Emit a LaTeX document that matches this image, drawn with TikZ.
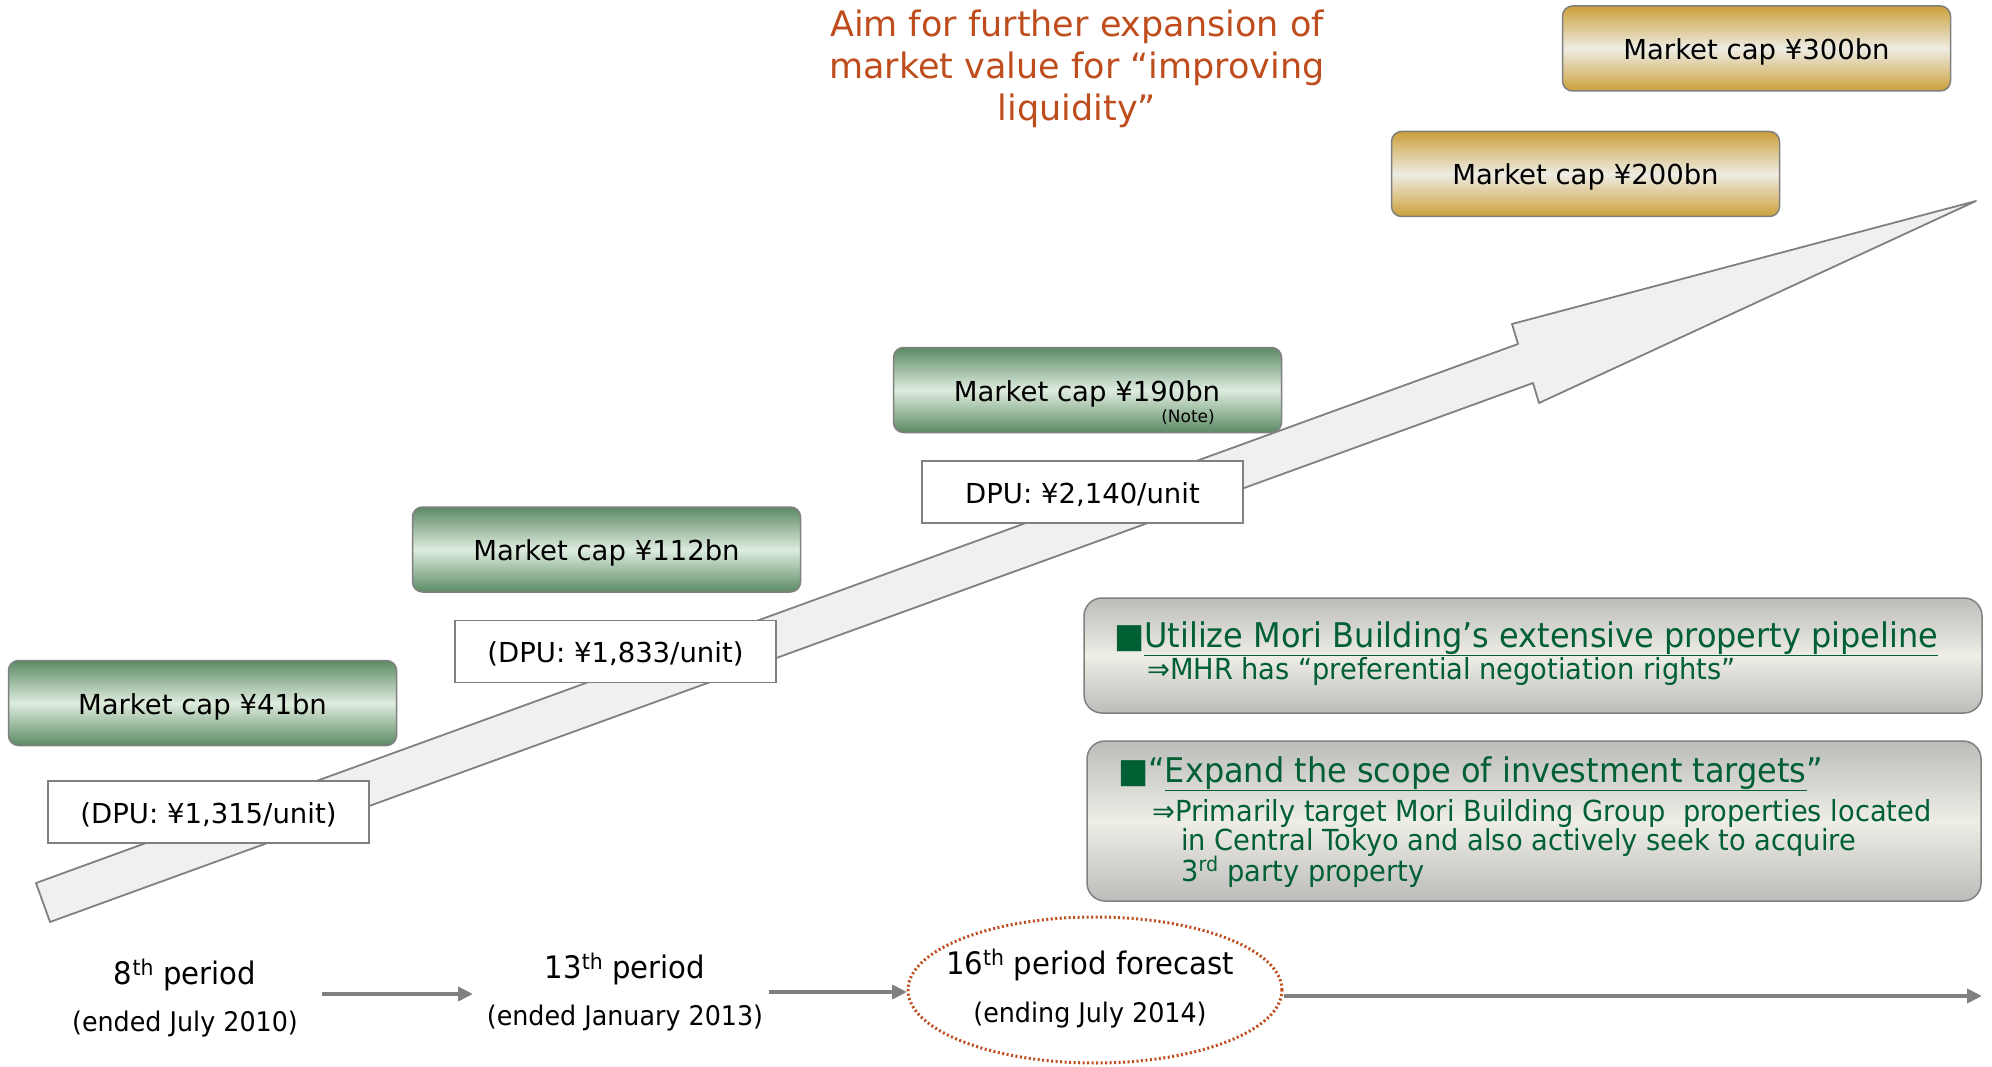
\documentclass[tikz,border=0pt]{standalone}
\usepackage{fontspec}
\setmainfont{DejaVu Sans}
\newfontfamily\narrowfont[FakeStretch=0.94]{DejaVu Sans}
\usetikzlibrary{arrows.meta,shapes.geometric}

\definecolor{capgreen}{RGB}{92,138,100}
\definecolor{capgreenlight}{RGB}{222,236,222}
\definecolor{capgold}{RGB}{204,160,58}
\definecolor{capgoldlight}{RGB}{238,236,228}
\definecolor{panelgray}{RGB}{188,188,186}
\definecolor{panellight}{RGB}{238,237,230}
\definecolor{edgegray}{RGB}{128,128,128}
\definecolor{textgreen}{RGB}{0,96,52}
\definecolor{rust}{RGB}{190,76,28}
\definecolor{arrowfill}{RGB}{240,240,240}

\tikzset{
  capbox/.style={draw=edgegray, line width=1.5, rounded corners=10,
    minimum width=388, minimum height=85, inner sep=0,
    text height=28, text depth=6,
    font=\fontsize{27.5}{32}\selectfont},
  greencap/.style={capbox, top color=capgreen, bottom color=capgreen, middle color=capgreenlight},
  goldcap/.style={capbox, top color=capgold, bottom color=capgold, middle color=capgoldlight},
  dpubox/.style={draw=edgegray, line width=1.8, fill=white,
    minimum width=321, minimum height=62, inner sep=0,
    text height=28, text depth=6,
    font=\fontsize{27.5}{32}\selectfont},
  panel/.style={draw=edgegray, line width=1.5, rounded corners=18,
    top color=panelgray, bottom color=panelgray, middle color=panellight, inner sep=0},
  paneltext/.style={anchor=base west, inner sep=0, text=textgreen,
    font=\narrowfont\fontsize{34}{40}\selectfont},
  panelsub/.style={anchor=base west, inner sep=0, text=textgreen,
    font=\narrowfont\fontsize{29}{34}\selectfont},
  growth/.style={draw=edgegray, line width=1.8, fill=arrowfill, line join=round},
  period/.style={inner sep=0, font=\narrowfont\fontsize{31}{37}\selectfont},
  periodsub/.style={inner sep=0, font=\narrowfont\fontsize{27}{32}\selectfont},
  timeline/.style={draw=edgegray, line width=4, -{Triangle[length=15,width=14]}},
}

\begin{document}
\begin{tikzpicture}[x=1pt,y=-1pt]
\useasboundingbox (0,0) rectangle (1992,1067);

% rising arrow behind the boxes
\draw[growth] (36,883) -- (1518,344) -- (1512,324) -- (1976,201)
  -- (1539,403) -- (1533,383) -- (50,922) -- cycle;

% headline
\node[text=rust, align=center, inner sep=0,
      font=\fontsize{35}{42}\selectfont] (aim) at (1077,69)
  {Aim for further expansion of\\market value for “improving\\liquidity”};

% market cap boxes
\node[greencap] (cap41)  at (202.5,703)  {Market cap ¥41bn};
\node[greencap] (cap112) at (606.5,549.5) {Market cap ¥112bn};
\node[greencap] (cap190) at (1087.5,390)  {};
\node[inner sep=0, text height=28, text depth=6,
      font=\fontsize{27.5}{32}\selectfont] (cap190t) at (1087,390) {Market cap ¥190bn};
\node[inner sep=0, font=\fontsize{17}{20}\selectfont] (note) at (1188,417) {(Note)};
\node[goldcap] (cap200) at (1585.5,174)  {Market cap ¥200bn};
\node[goldcap] (cap300) at (1756.5,48.5) {Market cap ¥300bn};

% distribution per unit boxes
\node[dpubox] (dpu1) at (208.5,812)  {(DPU: ¥1,315/unit)};
\node[dpubox] (dpu2) at (615.5,651.5) {(DPU: ¥1,833/unit)};
\node[dpubox] (dpu3) at (1082.5,492) {DPU: ¥2,140/unit};

% strategy panels
\node[panel, minimum width=898, minimum height=115] (pipe) at (1533,655.5) {};
\node[paneltext] (pipe1) at (1114,647)
  {■\underline{Utilize Mori Building’s extensive property pipeline}};
\node[panelsub] (pipe2) at (1147,679)
  {⇒MHR has “preferential negotiation rights”};

\node[panel, minimum width=894, minimum height=160] (scope) at (1534,821) {};
\node[paneltext] (scope1) at (1118,782)
  {■“\underline{Expand the scope of investment targets}”};
\node[panelsub] (scope2) at (1152,821)
  {⇒Primarily target Mori Building Group\ \ properties located};
\node[panelsub] (scope3) at (1181,850)
  {in Central Tokyo and also actively seek to acquire};
\node[panelsub] (scope4) at (1181,881)
  {3\textsuperscript{rd} party property};

% periods along the bottom
\node[period] (p8) at (185,975) {8\textsuperscript{th} period};
\node[periodsub] (p8s) at (185,1024) {(ended July 2010)};
\node[period] (p13) at (625,969) {13\textsuperscript{th} period};
\node[periodsub] (p13s) at (625,1018) {(ended January 2013)};
\node[draw=rust, line width=3, dash pattern=on 2 off 2.5,
      ellipse, minimum width=374, minimum height=146, inner sep=0] (fc) at (1095,990) {};
\node[period] (p16) at (1090,965) {16\textsuperscript{th} period forecast};
\node[periodsub] (p16s) at (1090,1015) {(ending July 2014)};

\coordinate (a1s) at (322,994);
\coordinate (a1e) at (473,994);
\coordinate (a2s) at (769,992);
\coordinate (a2e) at (907,992);
\coordinate (a3e) at (1982,996);
\draw[timeline] (a1s) -- (a1e);
\draw[timeline] (a2s) -- (a2e);
\draw[timeline] (fc.east |- a3e) -- (a3e);
\end{tikzpicture}
\end{document}
